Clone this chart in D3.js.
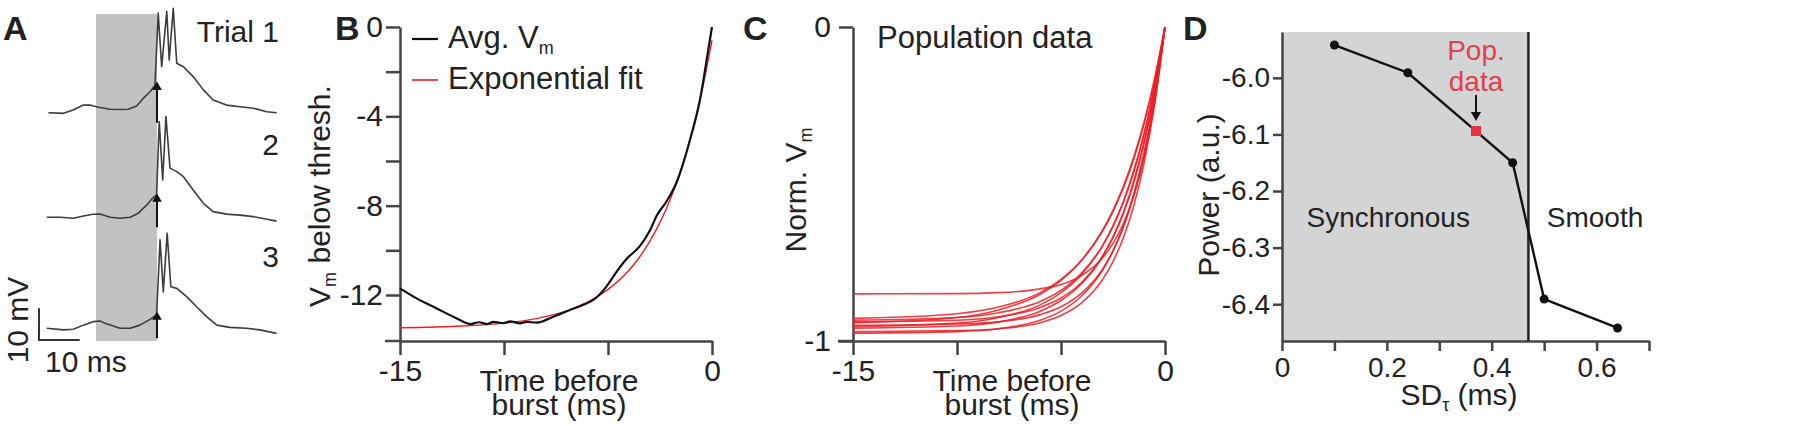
<!DOCTYPE html>
<html>
<head>
<meta charset="utf-8">
<script src="https://cdn.jsdelivr.net/npm/d3@7"></script>
<style>
  body { margin: 0; background: #fff; }
  svg { display: block; }
  text { font-family: 'Liberation Sans', Arial, Helvetica, sans-serif; fill: #222; }
</style>
</head>
<body>
<script>
// ---- panel A: three example trials, [ms from burst, mV above start]
var trial1 = [[-26.7,0],[-23.0,-0.2],[-20.6,0.85],[-18.1,2.4],[-16.5,2.4],[-14.4,1.7],[-11.5,1.1],[-9.0,1.0],[-7.05,1.1],[-5.0,2.1],[-3.4,4.5],[-1.7,6.6],[-0.5,8.7],[0.3,31.4],[1.15,14.5],[2.4,31.9],[3.0,16.6],[4.0,32.9],[4.85,15.6],[6.5,14.5],[8.9,11.4],[11.4,7.2],[13.8,4.0],[17.1,2.4],[20.4,1.9],[23.7,1.4],[27.0,0.3],[29.4,0]];
var trial2 = [[-27.1,0],[-23.8,0],[-20.6,-0.3],[-18.1,0.4],[-15.7,0.95],[-14.0,1.05],[-11.5,0],[-9.1,-0.3],[-6.6,0],[-4.6,1.3],[-2.5,3.9],[-0.9,6.3],[-0.1,7.0],[0.55,30.2],[1.4,11.8],[2.2,31.8],[3.2,15.5],[4.85,14.4],[6.5,12.8],[8.9,8.6],[11.4,4.4],[13.8,1.8],[17.1,1.0],[20.4,0.7],[23.7,0.2],[27.0,-0.6],[29.4,-1.2]];
var trial3 = [[-27.1,0],[-23.0,-0.5],[-20.6,-0.3],[-18.1,1.0],[-15.7,2.1],[-14.0,2.3],[-12.4,1.4],[-9.1,0],[-6.6,0],[-4.2,1.0],[-1.7,2.8],[-0.1,4.2],[0.75,27.9],[1.55,11.5],[2.5,30.0],[3.4,13.1],[4.85,12.6],[7.3,10.0],[9.75,6.8],[12.2,3.7],[14.7,1.0],[17.9,0.3],[22.0,0],[25.3,-0.5],[29.4,-1.6]];
var trialThresh = [8.7, 6.4, 4.2];   // mV at burst onset (arrowheads)
var trialLabels = ["Trial 1", "2", "3"];

// ---- panel B: average Vm and exponential fit
var bAvgTime = [-15,-14.2,-13.24,-12.27,-11.63,-11.2,-10.83,-10.5,-10.03,-9.7,-9.23,-8.9,-8.43,-7.63,-6.83,-6.35,-5.54,-5.06,-4.58,-4.1,-3.46,-2.98,-2.66,-2.18,-1.7,-1.06,-0.58,-0.18,0];
var bAvg = [-11.7,-12.15,-12.6,-13.05,-13.3,-13.22,-13.3,-13.2,-13.26,-13.18,-13.27,-13.2,-13.24,-12.97,-12.67,-12.5,-12.1,-11.6,-10.95,-10.38,-9.8,-9.1,-8.45,-7.8,-6.95,-5.06,-3.27,-1.03,0];
var bFitTime = [-15,-12,-10,-9,-8,-7,-6,-5,-4,-3.5,-3,-2.5,-2,-1.5,-1,-0.5,0];
var bFit = [-13.47,-13.39,-13.26,-13.15,-12.97,-12.72,-12.33,-11.75,-10.90,-10.32,-9.61,-8.75,-7.70,-6.42,-4.85,-2.94,-0.6];

// ---- panel C: normalised Vm per cell
var cTime = [-15,-10,-8,-6,-5,-4,-3,-2.5,-2,-1.5,-1,-0.5,0];
var cCells = [
  [-0.850,-0.849,-0.846,-0.834,-0.820,-0.791,-0.735,-0.689,-0.626,-0.537,-0.414,-0.241,0],
  [-0.928,-0.913,-0.892,-0.846,-0.804,-0.742,-0.650,-0.588,-0.512,-0.420,-0.307,-0.169,0],
  [-0.934,-0.925,-0.910,-0.874,-0.839,-0.783,-0.696,-0.635,-0.558,-0.462,-0.341,-0.190,0],
  [-0.939,-0.934,-0.923,-0.893,-0.863,-0.813,-0.730,-0.671,-0.594,-0.496,-0.370,-0.208,0],
  [-0.942,-0.925,-0.901,-0.851,-0.807,-0.742,-0.647,-0.584,-0.507,-0.414,-0.302,-0.165,0],
  [-0.950,-0.946,-0.939,-0.916,-0.891,-0.847,-0.771,-0.713,-0.637,-0.537,-0.405,-0.230,0],
  [-0.954,-0.943,-0.925,-0.885,-0.846,-0.787,-0.696,-0.633,-0.555,-0.457,-0.337,-0.186,0],
  [-0.959,-0.952,-0.939,-0.905,-0.871,-0.817,-0.730,-0.668,-0.590,-0.490,-0.364,-0.203,0],
  [-0.970,-0.967,-0.961,-0.942,-0.919,-0.878,-0.804,-0.747,-0.671,-0.569,-0.431,-0.247,0],
  [-0.975,-0.970,-0.961,-0.934,-0.905,-0.856,-0.774,-0.714,-0.635,-0.532,-0.399,-0.226,0]
];

// ---- panel D: power vs SD of tau
var sdTau = [0.1, 0.24, 0.37, 0.44, 0.5, 0.64];
var power = [-5.942, -5.991, -6.094, -6.150, -6.391, -6.442];
var popIndex = 2;          // the population-data point
var syncLimit = 0.47;      // edge of the synchronous region

var W = 1800, H = 426;
var axisCol = "#444", red = "#ee1c25";

var svg = d3.select("body").append("svg")
  .attr("width", W).attr("height", H);

function panelLetter(txt, x) {
  svg.append("text").attr("x", x).attr("y", 40)
    .attr("font-size", 34).attr("font-weight", "bold").text(txt);
}

// ================= A =================
panelLetter("A", 3);
var xA = d3.scaleLinear().domain([-15, 0]).range([96, 157]);
var mvPx = 3.17;           // px per mV
var bases = [112.7, 217.3, 328.3];

svg.append("rect")
  .attr("x", xA(-15)).attr("y", 14)
  .attr("width", xA(0) - xA(-15)).attr("height", 327)
  .attr("fill", "#c2c2c2");

[trial1, trial2, trial3].forEach(function (tr, i) {
  var yA = d3.scaleLinear().domain([0, 10]).range([bases[i], bases[i] - 10 * mvPx]);
  var line = d3.line().x(d => xA(d[0])).y(d => yA(d[1]));
  svg.append("path").datum(tr)
    .attr("d", line).attr("fill", "none")
    .attr("stroke", "#3c3c3c").attr("stroke-width", 1.6)
    .attr("stroke-linejoin", "round");
  // burst onset marker
  var ty = yA(trialThresh[i]);
  svg.append("line")
    .attr("x1", xA(0)).attr("x2", xA(0))
    .attr("y1", ty).attr("y2", bases[i] + 10)
    .attr("stroke", "#111").attr("stroke-width", 2);
  svg.append("path")
    .attr("d", d3.symbol(d3.symbolTriangle, 40)())
    .attr("transform", "translate(" + xA(0) + "," + (ty + 2) + ")")
    .attr("fill", "#111");
  svg.append("text")
    .attr("x", 279).attr("y", [42, 155, 267][i])
    .attr("text-anchor", "end").attr("font-size", 30)
    .text(trialLabels[i]);
});

// scale bar 10 ms x 10 mV
var sbX = 39, sbY = 340;
svg.append("path")
  .attr("d", "M" + sbX + "," + (sbY - 10 * mvPx) + "V" + sbY + "H" + (sbX + xA(-5) - xA(-15)))
  .attr("fill", "none").attr("stroke", "#333").attr("stroke-width", 2);
svg.append("text").attr("x", 45).attr("y", 372).attr("font-size", 30).text("10 ms");
svg.append("text")
  .attr("transform", "translate(28,320) rotate(-90)")
  .attr("text-anchor", "middle").attr("font-size", 30).text("10 mV");

// ================= common axis drawing =================
function styleAxis(g) {
  g.selectAll("path, line").attr("stroke", axisCol).attr("stroke-width", 2.5);
  g.selectAll("text").attr("fill", "#222")
    .style("font-family", "'Liberation Sans', Arial, sans-serif");
  // drop the unlabeled tick texts
  g.selectAll("text").filter(function () { return this.textContent === ""; }).remove();
}

function timeAxes(x, y, yTicks, yLabeled, yFmt, yLabelPad, leftExt) {
  var gy = svg.append("g").attr("transform", "translate(" + x.range()[0] + ",0)")
    .call(d3.axisLeft(y).tickValues(yTicks).tickSize(14).tickSizeOuter(0).tickPadding(yLabelPad)
      .tickFormat(d => yLabeled.indexOf(d) >= 0 ? yFmt(d) : ""));
  gy.selectAll("text").attr("font-size", 30);
  styleAxis(gy);
  var gx = svg.append("g").attr("transform", "translate(0," + y.range()[0] + ")")
    .call(d3.axisBottom(x).tickValues([-15, -10, -5, 0]).tickSize(14).tickSizeOuter(0).tickPadding(5)
      .tickFormat(d => (d === -15 || d === 0) ? String(d) : ""));
  gx.selectAll("text").attr("font-size", 30);
  styleAxis(gx);
  svg.append("line")
    .attr("x1", x.range()[0] - leftExt).attr("x2", x.range()[0])
    .attr("y1", y.range()[0]).attr("y2", y.range()[0])
    .attr("stroke", axisCol).attr("stroke-width", 2.5);
  var cx = (x.range()[0] + x.range()[1]) / 2 + 3;
  var t = svg.append("text").attr("text-anchor", "middle").attr("font-size", 30);
  t.append("tspan").attr("x", cx).attr("y", 391).text("Time before");
  t.append("tspan").attr("x", cx).attr("y", 415).text("burst (ms)");
}

function vmLabel(parent, pre, post) {
  parent.append("tspan").text(pre + "V");
  parent.append("tspan").attr("font-size", 18).attr("dy", 6).text("m");
  if (post) parent.append("tspan").attr("dy", -6).text(post);
}

// ================= B =================
panelLetter("B", 335);
var xB = d3.scaleLinear().domain([-15, 0]).range([400, 712]);
var yB = d3.scaleLinear().domain([-14.06, 0]).range([341, 27]);
timeAxes(xB, yB, [0, -2, -4, -6, -8, -10, -12], [0, -4, -8, -12], d => String(d), 3, 15);

var yLabB = svg.append("text")
  .attr("transform", "translate(330,196) rotate(-90)")
  .attr("text-anchor", "middle").attr("font-size", 30);
vmLabel(yLabB, "", " below thresh.");

var lineB = d3.line().x(d => xB(d[0])).y(d => yB(d[1])).curve(d3.curveMonotoneX);
svg.append("path").datum(bFitTime.map((t, i) => [t, bFit[i]]))
  .attr("d", lineB).attr("fill", "none").attr("stroke", red).attr("stroke-width", 1.4);
svg.append("path").datum(bAvgTime.map((t, i) => [t, bAvg[i]]))
  .attr("d", lineB).attr("fill", "none").attr("stroke", "#111").attr("stroke-width", 2.2);

// legend
svg.append("line").attr("x1", 412).attr("x2", 438).attr("y1", 39).attr("y2", 39)
  .attr("stroke", "#111").attr("stroke-width", 2.2);
svg.append("line").attr("x1", 412).attr("x2", 438).attr("y1", 80).attr("y2", 80)
  .attr("stroke", red).attr("stroke-width", 1.6);
var lg1 = svg.append("text").attr("x", 448).attr("y", 48).attr("font-size", 31);
vmLabel(lg1, "Avg. ", "");
svg.append("text").attr("x", 448).attr("y", 89).attr("font-size", 31).text("Exponential fit");

// ================= C =================
panelLetter("C", 743);
var xC = d3.scaleLinear().domain([-15, 0]).range([853, 1165]);
var yC = d3.scaleLinear().domain([-1, 0]).range([341, 27]);
timeAxes(xC, yC, [0, -1], [0, -1], d => String(d), 8, 15);

var yLabC = svg.append("text")
  .attr("transform", "translate(806,190) rotate(-90)")
  .attr("text-anchor", "middle").attr("font-size", 30);
vmLabel(yLabC, "Norm. ", "");

svg.append("text").attr("x", 877).attr("y", 48).attr("font-size", 31).text("Population data");

var lineC = d3.line().x(d => xC(d[0])).y(d => yC(d[1])).curve(d3.curveMonotoneX);
cCells.forEach(function (cell) {
  svg.append("path").datum(cTime.map((t, i) => [t, cell[i]]))
    .attr("d", lineC).attr("fill", "none")
    .attr("stroke", red).attr("stroke-opacity", 0.85).attr("stroke-width", 1.6);
});

// ================= D =================
panelLetter("D", 1183);
var xD = d3.scaleLinear().domain([0, 0.7]).range([1282, 1649]);
var yD = d3.scaleLinear().domain([-6.465, -5.919]).range([341, 32]);

svg.append("rect")
  .attr("x", xD(0)).attr("y", yD.range()[1])
  .attr("width", xD(syncLimit) - xD(0)).attr("height", yD.range()[0] - yD.range()[1])
  .attr("fill", "#d3d4d6");

var gyD = svg.append("g").attr("transform", "translate(" + xD(0) + ",0)")
  .call(d3.axisLeft(yD).tickValues([-6.0, -6.1, -6.2, -6.3, -6.4]).tickSize(9).tickSizeOuter(0)
    .tickPadding(3).tickFormat(d => d.toFixed(1)));
gyD.selectAll("text").attr("font-size", 28);
styleAxis(gyD);
var gxD = svg.append("g").attr("transform", "translate(0," + yD.range()[0] + ")")
  .call(d3.axisBottom(xD).tickValues(d3.range(0, 0.71, 0.1)).tickSize(10).tickSizeOuter(0)
    .tickPadding(6).tickFormat((d, i) => i % 2 === 0 ? (i === 0 ? "0" : d.toFixed(1)) : ""));
gxD.selectAll("text").attr("font-size", 28);
styleAxis(gxD);

svg.append("line")
  .attr("x1", xD(syncLimit)).attr("x2", xD(syncLimit))
  .attr("y1", yD.range()[1]).attr("y2", yD.range()[0])
  .attr("stroke", "#222").attr("stroke-width", 2.5);

svg.append("path").datum(sdTau.map((s, i) => [s, power[i]]))
  .attr("d", d3.line().x(d => xD(d[0])).y(d => yD(d[1])))
  .attr("fill", "none").attr("stroke", "#111").attr("stroke-width", 2.4);

svg.selectAll("circle.pt").data(sdTau.map((s, i) => [s, power[i], i]).filter(d => d[2] !== popIndex))
  .enter().append("circle").attr("class", "pt")
  .attr("cx", d => xD(d[0])).attr("cy", d => yD(d[1])).attr("r", 4.5).attr("fill", "#111");
svg.append("rect")
  .attr("x", xD(sdTau[popIndex]) - 5).attr("y", yD(power[popIndex]) - 5)
  .attr("width", 10).attr("height", 10).attr("fill", "#e8333f");

var popX = xD(sdTau[popIndex]);
var pt = svg.append("text").attr("text-anchor", "middle").attr("font-size", 28)
  .style("fill", "#e2404c");
pt.append("tspan").attr("x", popX).attr("y", 60).text("Pop.");
pt.append("tspan").attr("x", popX).attr("y", 91).text("data");
svg.append("line").attr("x1", popX).attr("x2", popX).attr("y1", 95).attr("y2", 112)
  .attr("stroke", "#111").attr("stroke-width", 2);
svg.append("path")
  .attr("d", d3.symbol(d3.symbolTriangle, 45)())
  .attr("transform", "translate(" + popX + ",115) rotate(180)")
  .attr("fill", "#111");

svg.append("text").attr("x", (xD(0) + xD(syncLimit)) / 2 - 17).attr("y", 227)
  .attr("text-anchor", "middle").attr("font-size", 28).text("Synchronous");
svg.append("text").attr("x", 1595).attr("y", 227)
  .attr("text-anchor", "middle").attr("font-size", 28).text("Smooth");

svg.append("text")
  .attr("transform", "translate(1219,195) rotate(-90)")
  .attr("text-anchor", "middle").attr("font-size", 30).text("Power (a.u.)");
var xl = svg.append("text").attr("x", 1459).attr("y", 405)
  .attr("text-anchor", "middle").attr("font-size", 30);
xl.append("tspan").text("SD");
xl.append("tspan").attr("font-size", 18).attr("dy", 6).text("τ");
xl.append("tspan").attr("dy", -6).text(" (ms)");
</script>
</body>
</html>
